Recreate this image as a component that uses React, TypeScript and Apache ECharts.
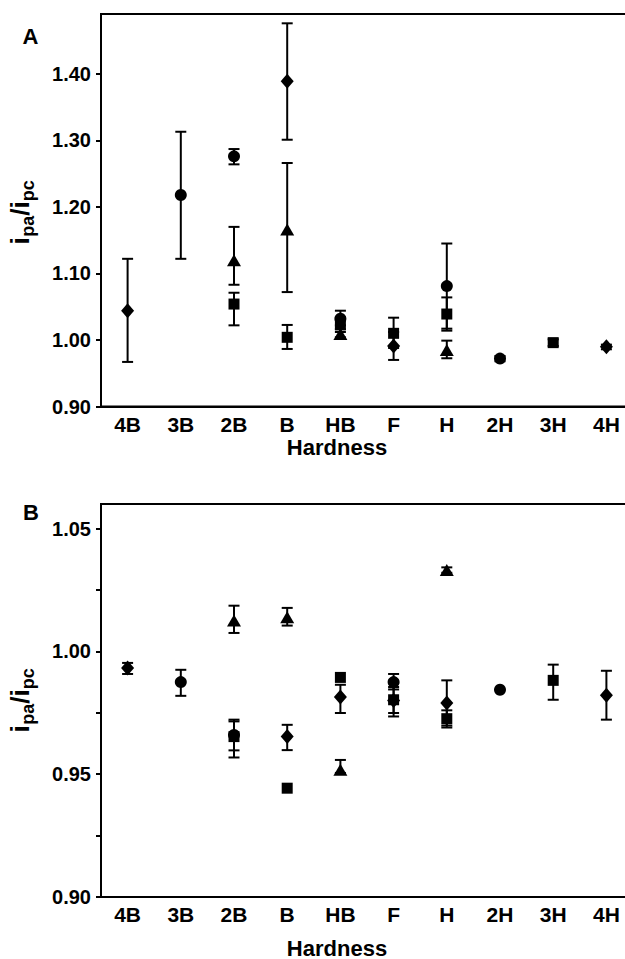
import React, { useEffect, useRef } from "react";
import * as echarts from "echarts";

const categories = ["4B", "3B", "2B", "B", "HB", "F", "H", "2H", "3H", "4H"];

// Panel A
const aDiamond = [1.044, null, null, 1.389, null, 0.991, null, null, null, 0.990];
const aDiamondLow = [0.967, null, null, 1.301, null, 0.970, null, null, null, 0.986];
const aDiamondHigh = [1.122, null, null, 1.476, null, 1.012, null, null, null, 0.993];

const aCircle = [null, 1.218, 1.276, null, 1.032, null, 1.081, 0.972, null, null];
const aCircleLow = [null, 1.122, 1.264, null, 1.022, null, 1.017, 0.968, null, null];
const aCircleHigh = [null, 1.313, 1.287, null, 1.044, null, 1.145, 0.976, null, null];

const aTriangle = [null, null, 1.12, 1.166, 1.009, null, 0.985, null, null, null];
const aTriangleLow = [null, null, 1.083, 1.072, 1.004, null, 0.9725, null, null, null];
const aTriangleHigh = [null, null, 1.17, 1.266, 1.016, null, 0.999, null, null, null];

const aSquare = [null, null, 1.054, 1.004, 1.023, 1.01, 1.039, null, 0.996, null];
const aSquareLow = [null, null, 1.022, 0.9865, 1.012, 0.988, 1.014, null, 0.991, null];
const aSquareHigh = [null, null, 1.071, 1.0226, 1.034, 1.0335, 1.064, null, 1.001, null];

// Panel B
const bDiamond = [0.9932, null, null, 0.9653, 0.9814, 0.98, 0.979, null, null, 0.9821];
const bDiamondLow = [0.9908, null, null, 0.9598, 0.9749, 0.9749, 0.9698, null, null, 0.9722];
const bDiamondHigh = [0.9953, null, null, 0.9701, 0.9864, 0.9855, 0.9882, null, null, 0.9921];

const bCircle = [null, 0.9875, 0.966, null, null, 0.9875, null, 0.9844, null, null];
const bCircleLow = [null, 0.9819, 0.9597, null, null, 0.9845, null, 0.9844, null, null];
const bCircleHigh = [null, 0.9925, 0.9715, null, null, 0.9908, null, 0.9844, null, null];

const bTriangle = [null, null, 1.0126, 1.0139, 0.9518, null, 1.0331, null, null, null];
const bTriangleLow = [null, null, 1.0075, 1.0105, 0.9505, null, 1.032, null, null, null];
const bTriangleHigh = [null, null, 1.0186, 1.0177, 0.9558, null, 1.0342, null, null, null];

const bSquare = [null, null, 0.9653, 0.9443, 0.9894, 0.9803, 0.9726, null, 0.9882, null];
const bSquareLow = [null, null, 0.9568, 0.9443, 0.9894, 0.9735, 0.969, null, 0.9803, null];
const bSquareHigh = [null, null, 0.9722, 0.9443, 0.9894, 0.987, 0.976, null, 0.9946, null];

const aYTicks = [0.9, 1.0, 1.1, 1.2, 1.3, 1.4];
const bYTicks = [0.9, 0.925, 0.95, 0.975, 1.0, 1.025, 1.05];
const bYLabels = [0.9, 0.95, 1.0, 1.05];

const FONT = "Liberation Sans";

function pts(vals: (number | null)[]) {
  const out: number[][] = [];
  vals.forEach((v, i) => {
    if (v !== null) out.push([i, v]);
  });
  return out;
}
function errs(lo: (number | null)[], hi: (number | null)[]) {
  const out: number[][] = [];
  lo.forEach((l, i) => {
    const h = hi[i];
    if (l !== null && h !== null && h - l > 0.0005) out.push([i, l, h]);
  });
  return out;
}

const renderErr = (params: any, api: any) => {
  const x = api.value(0);
  const p1 = api.coord([x, api.value(1)]);
  const p2 = api.coord([x, api.value(2)]);
  const hw = 5.5;
  const style = { stroke: "#000", lineWidth: 2 };
  return {
    type: "group",
    children: [
      { type: "line", shape: { x1: p1[0], y1: p1[1], x2: p2[0], y2: p2[1] }, style },
      { type: "line", shape: { x1: p1[0] - hw, y1: p1[1], x2: p1[0] + hw, y2: p1[1] }, style },
      { type: "line", shape: { x1: p2[0] - hw, y1: p2[1], x2: p2[0] + hw, y2: p2[1] }, style },
    ],
  };
};

function yTitle(cx: number, cy: number) {
  const mainFont = `bold 26px "${FONT}"`;
  const subFont = `bold 18px "${FONT}"`;
  const mainY = 10.2;
  const subY = 13.6;
  return {
    type: "group",
    x: cx,
    y: cy,
    rotation: Math.PI / 2,
    children: [
      { type: "text", x: -32.5, y: mainY, style: { text: "i", font: mainFont, fill: "#000", align: "left", verticalAlign: "bottom" } },
      { type: "text", x: -24.8, y: subY, style: { text: "pa", font: subFont, fill: "#000", align: "left", verticalAlign: "bottom" } },
      { type: "text", x: -3.8, y: mainY, style: { text: "/i", font: mainFont, fill: "#000", align: "left", verticalAlign: "bottom" } },
      { type: "text", x: 10.7, y: subY, style: { text: "pc", font: subFont, fill: "#000", align: "left", verticalAlign: "bottom" } },
    ],
  };
}

function centerText(text: string, x: number, y: number, size: number) {
  return {
    type: "text",
    x,
    y,
    style: { text, font: `bold ${size}px "${FONT}"`, fill: "#000", align: "center", verticalAlign: "middle" },
  };
}

export default function App() {
  const ref = useRef<HTMLDivElement>(null);
  useEffect(() => {
    if (!ref.current) return;
    const chart = echarts.init(ref.current, undefined, { renderer: "svg" });

    const xAxisBase = (gridIndex: number) => ({
      type: "category",
      gridIndex,
      data: categories,
      boundaryGap: true,
      axisLine: { lineStyle: { color: "#000", width: 2 } },
      axisTick: { alignWithLabel: true, length: 5, lineStyle: { color: "#000", width: 2 } },
      axisLabel: { color: "#000", fontFamily: FONT, fontWeight: "bold", fontSize: 21, margin: 7, hideOverlap: false },
      splitLine: { show: false },
    });

    const yAxisBase = (gridIndex: number, min: number, max: number, ticks: number[], labels: number[]) => ({
      type: "value",
      gridIndex,
      min,
      max,
      axisLine: { show: true, lineStyle: { color: "#000", width: 2 } },
      axisTick: { show: true, length: 5, customValues: ticks, lineStyle: { color: "#000", width: 2 } },
      axisLabel: {
        color: "#000",
        fontFamily: FONT,
        fontWeight: "bold",
        fontSize: 20,
        margin: 10,
        customValues: labels,
        formatter: (v: number) => v.toFixed(2),
      },
      splitLine: { show: false },
    });

    const sym = {
      diamond: { symbol: "diamond", symbolSize: [13, 15] },
      circle: { symbol: "circle", symbolSize: 12 },
      triangle: { symbol: "triangle", symbolSize: [14, 12] },
      square: { symbol: "rect", symbolSize: [11, 11] },
    } as any;

    const panel = (idx: number, sets: [string, (number | null)[], (number | null)[], (number | null)[]][]) => {
      const s: any[] = [];
      sets.forEach(([shape, v, lo, hi]) => {
        s.push({
          type: "custom",
          xAxisIndex: idx,
          yAxisIndex: idx,
          renderItem: renderErr,
          data: errs(lo, hi),
          z: 2,
        });
        s.push({
          type: "scatter",
          xAxisIndex: idx,
          yAxisIndex: idx,
          ...sym[shape],
          itemStyle: { color: "#000", opacity: 1 },
          data: pts(v),
          z: 3,
        });
      });
      return s;
    };

    const option: any = {
      animation: false,
      backgroundColor: "#fff",
      grid: [
        { left: 101, top: 14, width: 532, height: 392.5, outerBoundsMode: "none", containLabel: false, show: true, borderColor: "#000", borderWidth: 2, backgroundColor: "transparent" },
        { left: 101, top: 504, width: 532, height: 393, outerBoundsMode: "none", containLabel: false, show: true, borderColor: "#000", borderWidth: 2, backgroundColor: "transparent" },
      ],
      xAxis: [xAxisBase(0), xAxisBase(1)],
      yAxis: [
        yAxisBase(0, 0.9, 1.49, aYTicks, aYTicks),
        yAxisBase(1, 0.9, 1.06, bYTicks, bYLabels),
      ],
      series: [
        ...panel(0, [
          ["diamond", aDiamond, aDiamondLow, aDiamondHigh],
          ["circle", aCircle, aCircleLow, aCircleHigh],
          ["triangle", aTriangle, aTriangleLow, aTriangleHigh],
          ["square", aSquare, aSquareLow, aSquareHigh],
        ]),
        ...panel(1, [
          ["diamond", bDiamond, bDiamondLow, bDiamondHigh],
          ["circle", bCircle, bCircleLow, bCircleHigh],
          ["triangle", bTriangle, bTriangleLow, bTriangleHigh],
          ["square", bSquare, bSquareLow, bSquareHigh],
        ]),
      ],
      graphic: [
        centerText("A", 30.5, 36, 22),
        centerText("B", 31, 512, 22),
        centerText("Hardness", 337, 447, 22),
        centerText("Hardness", 337, 948, 22),
        yTitle(23, 212),
        yTitle(23, 700),
      ],
    };
    chart.setOption(option);
    return () => chart.dispose();
  }, []);
  return <div ref={ref} style={{ position: "fixed", left: 0, top: 0, width: 625, height: 959 }} />;
}
